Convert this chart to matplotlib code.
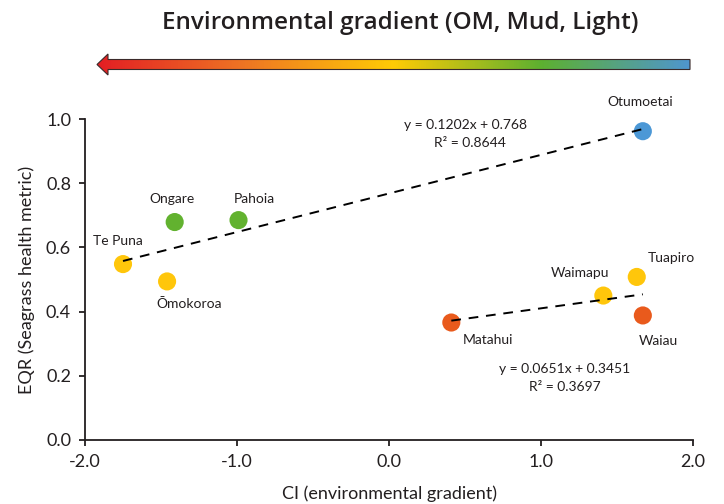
import numpy as np
import matplotlib
matplotlib.use("Agg")
import matplotlib.pyplot as plt
from matplotlib.patches import Polygon
from matplotlib.colors import LinearSegmentedColormap

plt.rcParams['font.family'] = ['Lato', 'DejaVu Sans']

# ---- data ----
sites = ["Otumoetai", "Ongare", "Pahoia", "Te Puna", "Ōmokoroa",
         "Waimapu", "Tuapiro", "Waiau", "Matahui"]
ci = [1.67, -1.41, -0.99, -1.75, -1.46, 1.41, 1.63, 1.67, 0.41]
eqr = [0.962, 0.679, 0.685, 0.548, 0.494, 0.450, 0.508, 0.388, 0.366]
colors = ["#4C98D6", "#62B22F", "#62B22F", "#FFC60B", "#FFC60B",
          "#FFC60B", "#FFC60B", "#E95A1C", "#E95A1C"]
group = [1, 1, 1, 1, 1, 2, 2, 2, 2]
# label offsets (pixels)
label_dx = [-3, -3, 16, -5, 22, -23, 35, 16, 37]
label_dy = [29, 23, 21, 23, -23, 23, 19, -26, -17]

trend_slope = {1: 0.1202, 2: 0.0651}
trend_icept = {1: 0.768, 2: 0.3451}
trend_r2 = {1: 0.8644, 2: 0.3697}

xticks = [-2.0, -1.0, 0.0, 1.0, 2.0]
yticks = [0.0, 0.2, 0.4, 0.6, 0.8, 1.0]

grad_colors = ["#E31E24", "#EE7623", "#FFCB05", "#5DB030", "#4F96CE"]

txt = "#231F20"

W, H = 724, 504
fig = plt.figure(figsize=(W / 100, H / 100), dpi=100)

# main axes
ax = fig.add_axes([85 / W, 1 - 440 / H, (693 - 85) / W, (440 - 119) / H])
ax.set_xlim(-2, 2)
ax.set_ylim(0, 1)
ax.set_xticks(xticks)
ax.set_yticks(yticks)
ax.set_xticklabels([f"{t:.1f}" for t in xticks])
ax.set_yticklabels([f"{t:.1f}" for t in yticks])
for s in ["top", "right"]:
    ax.spines[s].set_visible(False)
for s in ["left", "bottom"]:
    ax.spines[s].set_color(txt)
    ax.spines[s].set_linewidth(1.3)
ax.tick_params(direction="out", length=4, width=1.3, color=txt,
               labelsize=13, labelcolor=txt, pad=6)
ax.set_xlabel("CI (environmental gradient)", fontsize=13, color=txt, labelpad=11)
ax.set_ylabel("EQR (Seagrass health metric)", fontsize=13, color=txt, labelpad=8)

ax.scatter(ci, eqr, s=170, c=colors, zorder=3, linewidths=0, clip_on=False)

for name, x, y, dx, dy in zip(sites, ci, eqr, label_dx, label_dy):
    ax.annotate(name, (x, y), xytext=(dx, dy), textcoords="offset pixels",
                ha="center", va="center", fontsize=10, color=txt)

ci_a = np.array(ci)
grp = np.array(group)
for g in (1, 2):
    xs = ci_a[grp == g]
    xl = np.array([xs.min(), xs.max()])
    ax.plot(xl, trend_slope[g] * xl + trend_icept[g], ls=(0, (5, 4)),
            color="black", lw=1.4, zorder=4)

# equations
ax.annotate(f"y = {trend_slope[1]:.4f}x + {trend_icept[1]:.3f}", (0.0, 1.0),
            xycoords="axes fraction", xytext=(380, -6), textcoords="offset pixels",
            ha="center", va="center", fontsize=10, color=txt)
ax.annotate(f"R² = {trend_r2[1]:.4f}", (0.0, 1.0),
            xycoords="axes fraction", xytext=(385, -24), textcoords="offset pixels",
            ha="center", va="center", fontsize=10, color=txt)
ax.annotate(f"y = {trend_slope[2]:.4f}x + {trend_icept[2]:.4f}", (0.0, 0.0),
            xycoords="axes fraction", xytext=(480, 71), textcoords="offset pixels",
            ha="center", va="center", fontsize=10, color=txt)
ax.annotate(f"R² = {trend_r2[2]:.4f}", (0.0, 0.0),
            xycoords="axes fraction", xytext=(480, 53), textcoords="offset pixels",
            ha="center", va="center", fontsize=10, color=txt)

# gradient arrow + title in pixel-coordinate overlay axes
ov = fig.add_axes([0, 0, 1, 1], zorder=-1)
ov.set_xlim(0, W)
ov.set_ylim(H, 0)
ov.axis("off")
ov.text(400, 23, "Environmental gradient (OM, Mud, Light)", ha="center", va="center",
        fontsize=17.5, fontweight="semibold", color=txt,
        family=["Open Sans", "DejaVu Sans"])

tip_x, head_x, end_x = 97, 108, 690
yc = 64.5
poly = [(tip_x, yc), (head_x, 54), (head_x, 59.5), (end_x, 59.5),
        (end_x, 69.5), (head_x, 69.5), (head_x, 75)]
cmap = LinearSegmentedColormap.from_list("g", grad_colors)
grad = np.linspace(0, 1, 512).reshape(1, -1)
im = ov.imshow(grad, cmap=cmap, extent=[tip_x, end_x, 75, 54], aspect="auto")
patch = Polygon(poly, closed=True, facecolor="none", edgecolor="#3a2a2a", lw=0.8)
ov.add_patch(patch)
im.set_clip_path(patch)
ov.set_xlim(0, W)
ov.set_ylim(H, 0)

fig.savefig("out.png", dpi=100)
